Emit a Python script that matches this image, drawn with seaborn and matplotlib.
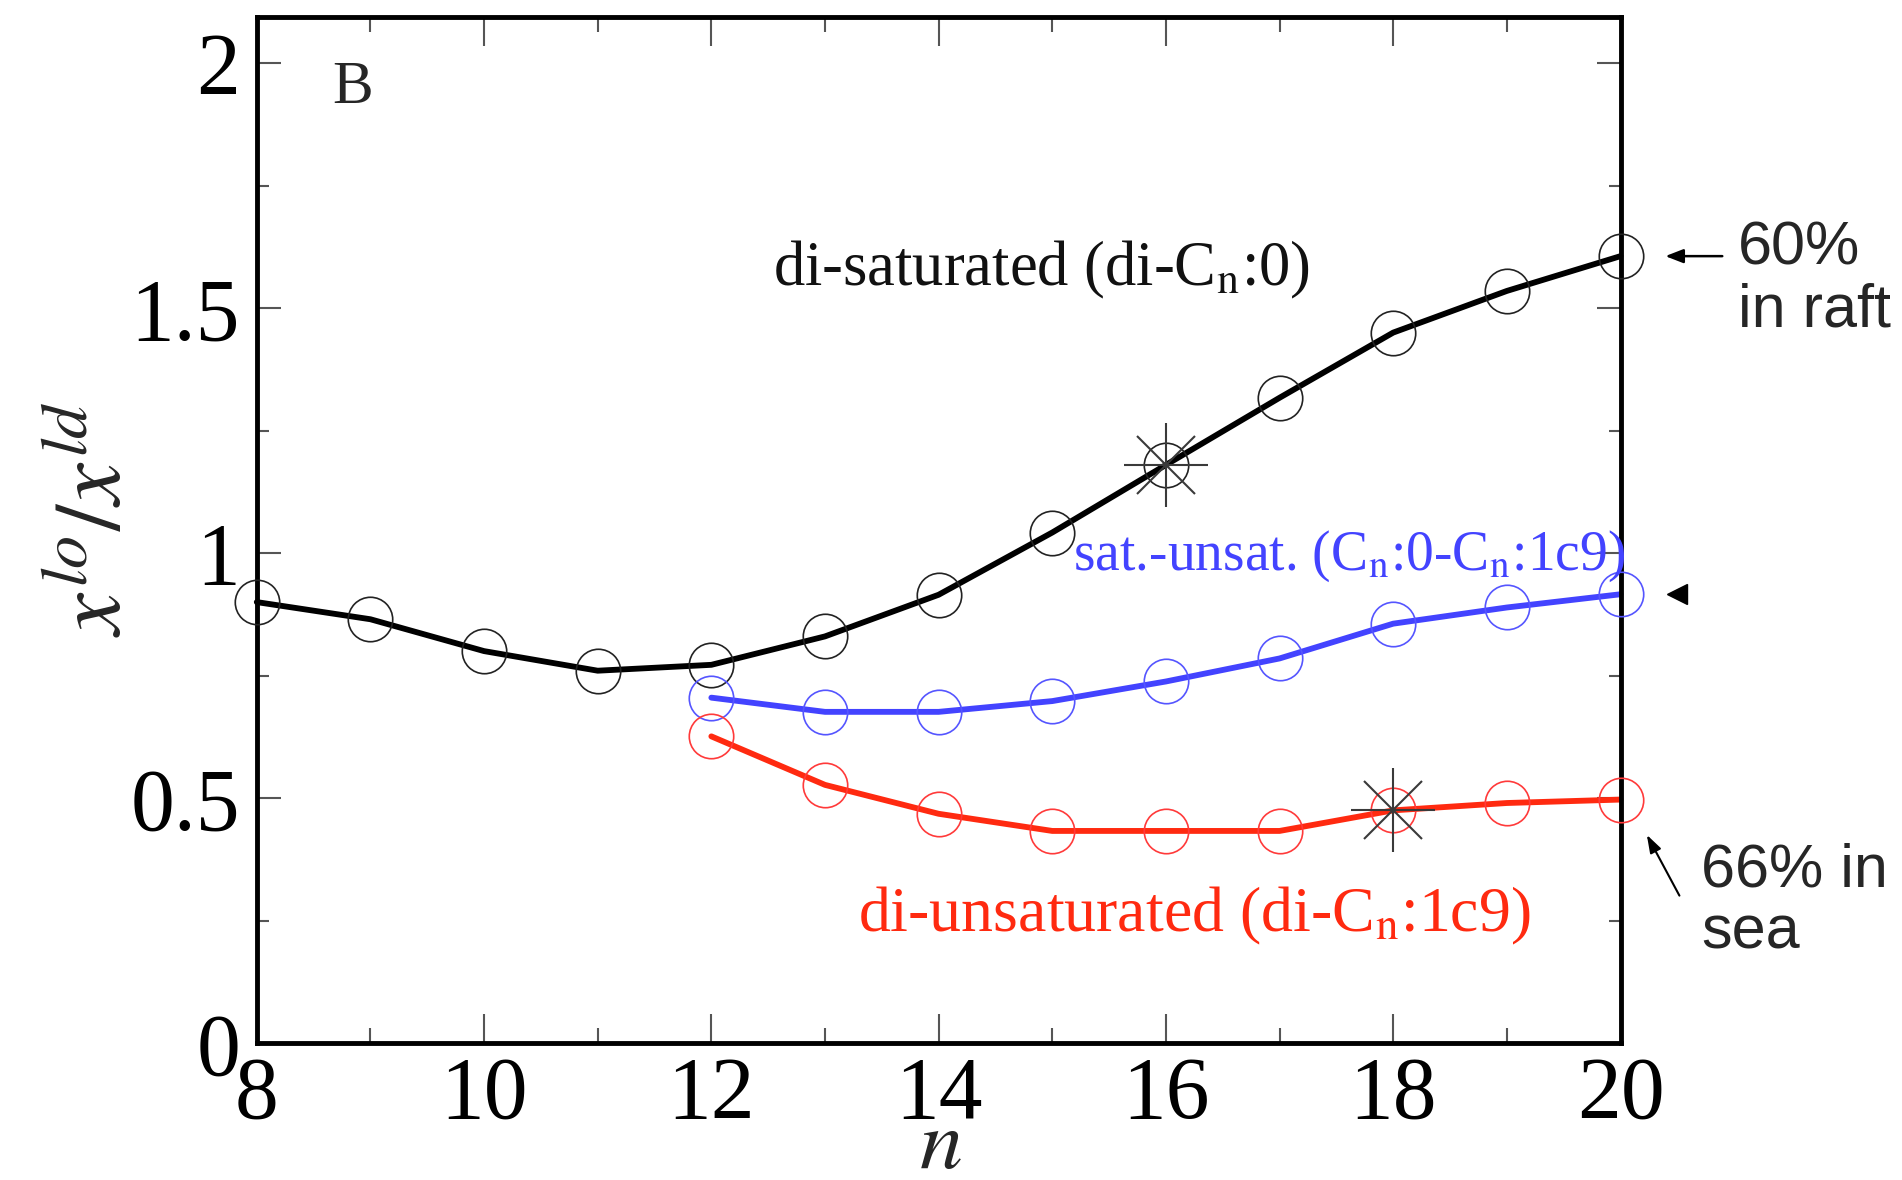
import numpy as np
import matplotlib
matplotlib.use('Agg')
import matplotlib.pyplot as plt
import seaborn as sns
from matplotlib.ticker import MultipleLocator

# chain length n and partition ratio x_lo / x_ld
n_sat = [8, 9, 10, 11, 12, 13, 14, 15, 16, 17, 18, 19, 20]
ratio_sat = [0.90, 0.865, 0.80, 0.76, 0.772, 0.83, 0.915, 1.042, 1.18, 1.317, 1.45, 1.535, 1.606]

n_mix = [12, 13, 14, 15, 16, 17, 18, 19, 20]
ratio_mix = [0.705, 0.676, 0.676, 0.698, 0.738, 0.785, 0.856, 0.889, 0.916]

n_unsat = [12, 13, 14, 15, 16, 17, 18, 19, 20]
ratio_unsat = [0.626, 0.527, 0.468, 0.433, 0.433, 0.433, 0.475, 0.49, 0.497]

# highlighted compositions (asterisks)
star_n = [16, 18]
star_ratio = [1.18, 0.475]

x_ticks = [8, 10, 12, 14, 16, 18, 20]
y_ticks = [0, 0.5, 1, 1.5, 2]
y_ticklabels = ["0", "0.5", "1", "1.5", "2"]

sns.set_theme(style="ticks")
plt.rcParams['font.family'] = ['Liberation Serif', 'DejaVu Serif']
plt.rcParams['mathtext.fontset'] = 'stix'

fig = plt.figure(figsize=(19.02, 11.80), dpi=100)
ax = fig.add_axes([0.135, 0.116, 0.717, 0.87])

BLUE = '#4343ff'
RED = '#ff2a10'

series = [
    (n_sat, ratio_sat, 'black', '#222222'),
    (n_mix, ratio_mix, BLUE, '#5555ff'),
    (n_unsat, ratio_unsat, RED, '#ff3a3a'),
]
for xs, ys, lc, mc in series:
    sns.lineplot(x=xs, y=ys, ax=ax, color=lc, linewidth=4.2, clip_on=False)
    ax.plot(xs, ys, linestyle='none', marker='o', markersize=32,
            markerfacecolor='none', markeredgecolor=mc, markeredgewidth=1.2,
            clip_on=False, zorder=3)

# asterisks = '+' combined with 'x'
ax.plot(star_n, star_ratio, linestyle='none', marker='+', markersize=60,
        markeredgewidth=1.5, color='#3a3a3a', zorder=4)
ax.plot(star_n, star_ratio, linestyle='none', marker='x', markersize=42,
        markeredgewidth=1.5, color='#3a3a3a', zorder=4)

ax.set_xlim(8, 20)
ax.set_ylim(0, 2.095)
ax.set_xticks(x_ticks)
ax.set_yticks(y_ticks)
ax.set_yticklabels(y_ticklabels)
ax.xaxis.set_minor_locator(MultipleLocator(1))
ax.yaxis.set_minor_locator(MultipleLocator(0.25))

ax.tick_params(axis='both', which='both', direction='in', top=True, right=True,
               colors='#555555', labelcolor='black', labelsize=63, width=1.5)
ax.tick_params(axis='x', which='major', length=21, pad=9)
ax.tick_params(axis='x', which='minor', length=11)
ax.tick_params(axis='y', which='major', length=17, pad=12)
ax.tick_params(axis='y', which='minor', length=8.5)
for sp in ax.spines.values():
    sp.set_linewidth(3.5)
    sp.set_color('black')
    sp.set_visible(True)

ax.set_xlabel(r'$n$', fontsize=62)
ax.set_ylabel(r'$x^{lo}/x^{ld}$', fontsize=68)
ax.xaxis.set_label_coords(0.501, -0.064)
ax.yaxis.set_label_coords(-0.085, 0.51)

ax.text(0.07, 0.93, 'B', transform=ax.transAxes, fontsize=44,
        ha='center', va='center')

ax.text(12.54, 1.547, r'di-saturated (di-C$_\mathrm{n}$:0)', fontsize=45,
        color='#111111', ha='left', va='baseline')
ax.text(15.18, 0.965, r'sat.-unsat. (C$_\mathrm{n}$:0-C$_\mathrm{n}$:1c9)', fontsize=40,
        color=BLUE, ha='left', va='baseline')
ax.text(13.29, 0.227, r'di-unsaturated (di-C$_\mathrm{n}$:1c9)', fontsize=46,
        color=RED, ha='left', va='baseline')

# notes outside the frame
sans = ['Liberation Sans', 'DejaVu Sans']
ax.text(21.03, 1.557, '60%\nin raft', fontsize=44, family=sans,
        ha='left', va='center', linespacing=1.1, clip_on=False)
ax.annotate('', xy=(n_sat[-1] + 0.37, ratio_sat[-1]), xytext=(20.92, ratio_sat[-1]),
            arrowprops=dict(arrowstyle='-|>,head_length=0.9,head_width=0.35',
                            color='black', lw=1.8), annotation_clip=False)

ax.text(20.71, 0.288, '66% in\nsea', fontsize=44, family=sans,
        ha='left', va='center', linespacing=1.1, clip_on=False)
ax.annotate('', xy=(20.22, 0.43), xytext=(20.53, 0.296),
            arrowprops=dict(arrowstyle='-|>,head_length=0.9,head_width=0.3',
                            color='black', lw=1.5), annotation_clip=False)

ax.plot([n_mix[-1] + 0.5], [ratio_mix[-1]], marker='<', markersize=14,
        color='black', linestyle='none', clip_on=False)

fig.savefig('out.png', dpi=100)
